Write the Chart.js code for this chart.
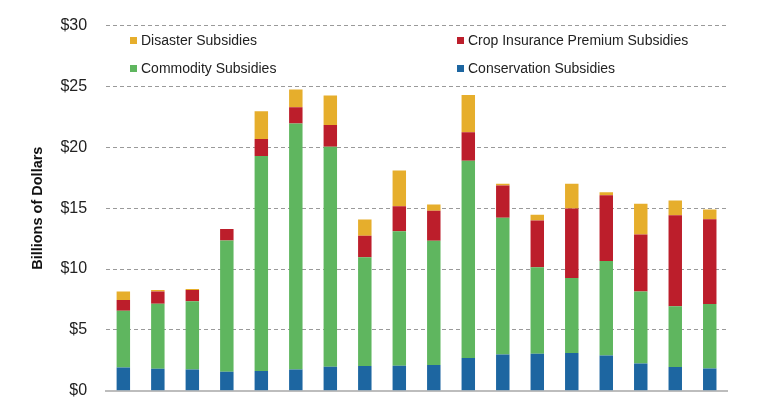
<!DOCTYPE html>
<html>
<head>
<meta charset="utf-8">
<script src="https://cdn.jsdelivr.net/npm/chart.js@4"></script>
<style>
  html, body { margin: 0; padding: 0; background: #fff; overflow: hidden; }
  #wrap { position: relative; width: 768px; height: 433px; margin-top: -3px; }
</style>
</head>
<body>
<div id="wrap"><canvas id="subsidios"></canvas></div>
<script>
// años y subsidios (miles de millones de dólares)
var years = ["1995", "1996", "1997", "1998", "1999", "2000", "2001", "2002", "2003",
             "2004", "2005", "2006", "2007", "2008", "2009", "2010", "2011", "2012"];
var conservation = [1.92, 1.81, 1.75, 1.56, 1.62, 1.75, 1.98, 2.03, 2.06,
                    2.11, 2.69, 2.99, 3.04, 3.10, 2.91, 2.25, 1.95, 1.84];
var commodity = [4.66, 5.35, 5.60, 10.79, 17.66, 20.20, 18.07, 8.94, 11.05,
                 10.21, 16.21, 11.22, 7.11, 6.17, 7.76, 5.90, 4.99, 5.29];
var cropInsurance = [0.88, 0.99, 0.94, 0.95, 1.41, 1.34, 1.79, 1.76, 2.06,
                     2.47, 2.33, 2.66, 3.84, 5.71, 5.40, 4.69, 7.49, 6.97];
var disaster = [0.69, 0.14, 0.08, 0, 2.27, 1.46, 2.41, 1.34, 2.93,
                0.52, 3.07, 0.13, 0.47, 2.02, 0.25, 2.53, 1.21, 0.80];
var yTicks = [0, 5, 10, 15, 20, 25, 30];

var colores = {
  disaster: "#E6AE2C",
  crop: "#BC1E2B",
  commodity: "#5FB65F",
  conservation: "#1D66A1"
};

var FONT = "'Liberation Sans', Arial, sans-serif";

// leyenda en dos columnas dentro del area del grafico
var leyenda = {
  id: "leyenda",
  afterDraw: function (chart) {
    var ctx = chart.ctx;
    var items = [
      { text: "Disaster Subsidies", color: colores.disaster, x: 130, y: 44 },
      { text: "Crop Insurance Premium Subsidies", color: colores.crop, x: 457, y: 44 },
      { text: "Commodity Subsidies", color: colores.commodity, x: 130, y: 72 },
      { text: "Conservation Subsidies", color: colores.conservation, x: 457, y: 72 }
    ];
    ctx.save();
    ctx.font = "14px " + FONT;
    ctx.textBaseline = "middle";
    ctx.textAlign = "left";
    items.forEach(function (it) {
      ctx.fillStyle = it.color;
      ctx.fillRect(it.x, it.y - 4, 7, 7);
      ctx.fillStyle = "#222";
      ctx.fillText(it.text, it.x + 11, it.y);
    });
    ctx.restore();
  }
};

function serie(label, data, color) {
  return {
    label: label,
    data: data,
    backgroundColor: color,
    borderWidth: 0,
    barPercentage: 0.39,
    categoryPercentage: 1.0,
    stack: "s"
  };
}

const ctx = document.getElementById("subsidios");

new Chart(ctx, {
  type: "bar",
  data: {
    labels: years,
    datasets: [
      serie("Conservation Subsidies", conservation, colores.conservation),
      serie("Commodity Subsidies", commodity, colores.commodity),
      serie("Crop Insurance Premium Subsidies", cropInsurance, colores.crop),
      serie("Disaster Subsidies", disaster, colores.disaster)
    ]
  },
  options: {
    responsive: true,
    maintainAspectRatio: false,
    animation: false,
    layout: { padding: { top: 19, right: 41, left: 29, bottom: 0 } },
    plugins: {
      legend: { display: false },
      tooltip: { enabled: false }
    },
    scales: {
      x: {
        stacked: true,
        grid: { display: false, drawTicks: false },
        border: { display: true, color: "#BDBDBD", width: 2 },
        ticks: {
          autoSkip: false,
          maxRotation: 0,
          padding: 10,
          color: "#333",
          font: { family: FONT, size: 16 },
          callback: function (v, i) { return i % 2 === 0 ? years[i] : ""; }
        }
      },
      y: {
        stacked: true,
        min: 0,
        max: 30,
        afterBuildTicks: function (axis) {
          axis.ticks = yTicks.map(function (v) { return { value: v }; });
        },
        grid: {
          color: function (c) { return c.tick.value === 0 ? "rgba(0,0,0,0)" : "#9A9A9A"; },
          lineWidth: 1,
          drawTicks: false
        },
        border: { display: false, dash: [4, 3] },
        ticks: {
          padding: 19,
          color: "#222",
          font: { family: FONT, size: 16 },
          callback: function (v) { return "$" + v; }
        },
        title: {
          display: true,
          text: "Billions of Dollars",
          color: "#111",
          font: { family: FONT, size: 14.5, weight: "bold" },
          padding: { top: 0, bottom: -5 }
        }
      }
    }
  },
  plugins: [leyenda]
});
</script>
</body>
</html>
